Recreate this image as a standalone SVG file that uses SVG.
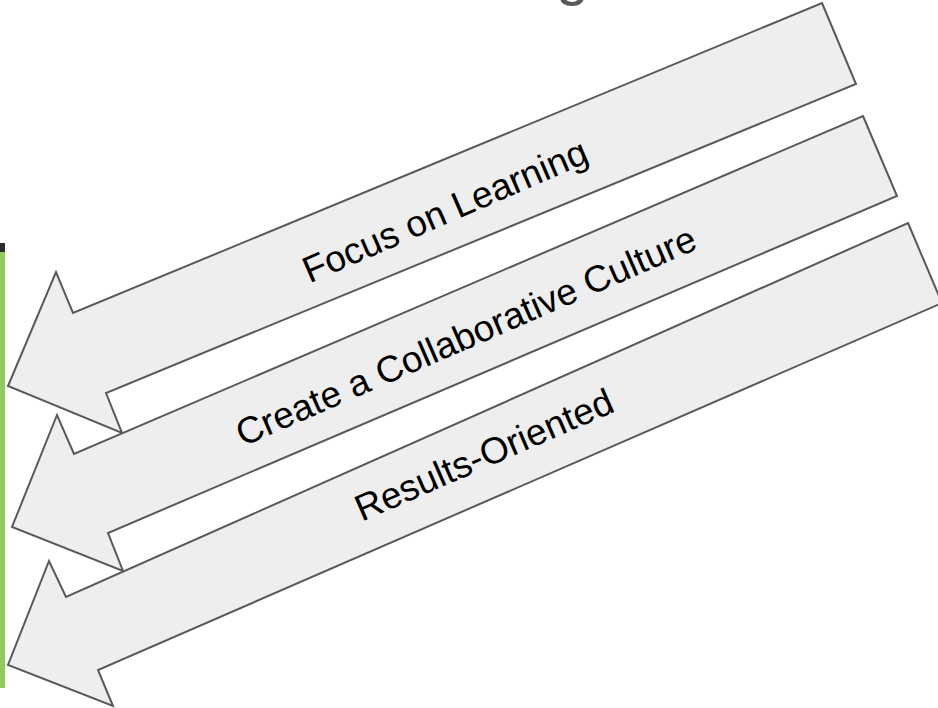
<svg xmlns="http://www.w3.org/2000/svg" width="938" height="708" viewBox="0 0 938 708">
<style>
.arrow{fill:#eeeeee;stroke:#595959;stroke-width:2;stroke-linejoin:miter}
.lbl{font-family:"Liberation Sans",Arial,sans-serif;font-size:37px;fill:#000000;text-anchor:middle;dominant-baseline:central}
.title{font-family:"Liberation Sans",Arial,sans-serif;font-size:59px;fill:#595959}
</style>
<rect width="938" height="708" fill="#ffffff"/>
<g id="title"><text class="title" x="18" y="-6">Professional Learning Communities</text></g>
<g id="sidebar">
<rect x="0" y="252" width="5" height="436" fill="#93c961"/>
<rect x="0" y="243" width="5" height="9" fill="#2b2b2b"/>
</g>
<g id="connectors"></g>
<g id="arrow1">
<polygon class="arrow" points="822,3 856,84 106,393 122,433 8,386 56,272 73,313"/>
<text class="lbl" transform="translate(445,211) rotate(-23.5)">Focus on Learning</text>
</g>
<g id="arrow2">
<polygon class="arrow" points="863,116 897,196 108,533 123,571 12,527 57,415 74,454"/>
<text class="lbl" transform="translate(466,336) rotate(-23.5)">Create a Collaborative Culture</text>
</g>
<g id="arrow3">
<polygon class="arrow" points="908,223 942,303 98,670 113,706 8,665 49,561 66,597"/>
<text class="lbl" transform="translate(484,455) rotate(-23.5)">Results-Oriented</text>
</g>
</svg>
